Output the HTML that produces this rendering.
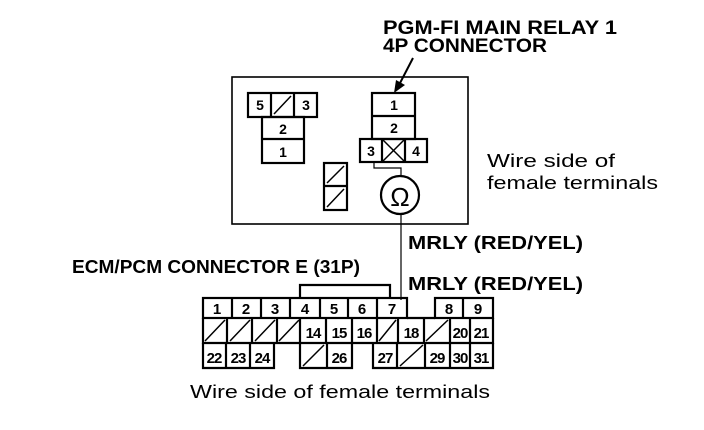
<!DOCTYPE html>
<html><head><style>html,body{margin:0;padding:0;background:#fff}svg{display:block}</style></head><body>
<svg width="704" height="430" viewBox="0 0 704 430" xmlns="http://www.w3.org/2000/svg" font-family="Liberation Sans, sans-serif">
<g fill="none" stroke="#000" stroke-width="2.2">
<rect x="232" y="77" width="236" height="147" stroke-width="1.6"/>
<rect x="248" y="93" width="69" height="24"/>
<line x1="271" y1="93" x2="271" y2="117"/><line x1="294" y1="93" x2="294" y2="117"/>
<line x1="274" y1="114" x2="291" y2="96" stroke-width="1.5"/>
<rect x="262" y="117" width="42" height="46"/>
<line x1="262" y1="139" x2="304" y2="139"/>
<rect x="324" y="163" width="23" height="47"/>
<line x1="324" y1="186" x2="347" y2="186"/>
<line x1="327" y1="183" x2="344" y2="166" stroke-width="1.5"/>
<line x1="327" y1="207" x2="344" y2="189" stroke-width="1.5"/>
<rect x="372" y="93" width="43" height="46"/>
<line x1="372" y1="116" x2="415" y2="116"/>
<rect x="360" y="139" width="67" height="23"/>
<line x1="382" y1="139" x2="382" y2="162"/><line x1="405" y1="139" x2="405" y2="162"/>
<line x1="383" y1="140" x2="404" y2="161" stroke-width="1.5"/>
<line x1="383" y1="161" x2="404" y2="140" stroke-width="1.5"/>
<polyline points="374,162 374,168 401,168 401,175" stroke-width="1.2"/>
<circle cx="400" cy="195" r="19"/>
<line x1="401" y1="214" x2="401" y2="300" stroke-width="1.2"/>
<line x1="413" y1="58" x2="399" y2="85" stroke-width="2"/>
</g>
<polygon points="394,93 396,80 405,85" fill="#000"/>
<text x="400" y="206" font-size="26" text-anchor="middle">Ω</text>
<g font-size="14" font-weight="bold" text-anchor="middle">
<text x="260" y="110">5</text><text x="306" y="110">3</text>
<text x="283" y="134">2</text><text x="283" y="157">1</text>
<text x="394" y="110">1</text><text x="394" y="133">2</text>
<text x="371" y="156">3</text><text x="416" y="156">4</text>
</g>
<g font-weight="bold" fill="#000">
<text x="383" y="34" font-size="19" textLength="234" lengthAdjust="spacingAndGlyphs">PGM-FI MAIN RELAY 1</text>
<text x="383" y="52" font-size="19" textLength="164" lengthAdjust="spacingAndGlyphs">4P CONNECTOR</text>
<text x="408" y="249" font-size="18" textLength="175" lengthAdjust="spacingAndGlyphs">MRLY (RED/YEL)</text>
<text x="408" y="290" font-size="18" textLength="175" lengthAdjust="spacingAndGlyphs">MRLY (RED/YEL)</text>
<text x="72" y="273" font-size="18" textLength="288" lengthAdjust="spacingAndGlyphs">ECM/PCM CONNECTOR E (31P)</text>
</g>
<g font-size="18">
<text x="487" y="167" textLength="128" lengthAdjust="spacingAndGlyphs">Wire side of</text>
<text x="487" y="189" textLength="171" lengthAdjust="spacingAndGlyphs">female terminals</text>
<text x="190" y="398" textLength="300" lengthAdjust="spacingAndGlyphs">Wire side of female terminals</text>
</g>
<g fill="none" stroke="#000" stroke-width="2.2">
<polyline points="300,298 300,285 390,285 390,298"/>
<rect x="203" y="298" width="204" height="20"/>
<line x1="232" y1="298" x2="232" y2="318"/><line x1="261" y1="298" x2="261" y2="318"/>
<line x1="290" y1="298" x2="290" y2="318"/><line x1="320" y1="298" x2="320" y2="318"/>
<line x1="348" y1="298" x2="348" y2="318"/><line x1="377" y1="298" x2="377" y2="318"/>
<rect x="435" y="298" width="58" height="20"/>
<line x1="463" y1="298" x2="463" y2="318"/>
<polyline points="203,318 203,343 493,343 493,318"/>
<line x1="407" y1="318" x2="435" y2="318"/>
<line x1="227" y1="318" x2="227" y2="343"/><line x1="252" y1="318" x2="252" y2="343"/>
<line x1="277" y1="318" x2="277" y2="343"/><line x1="300" y1="318" x2="300" y2="343"/>
<line x1="326" y1="318" x2="326" y2="343"/><line x1="352" y1="318" x2="352" y2="343"/>
<line x1="377" y1="318" x2="377" y2="343"/><line x1="398" y1="318" x2="398" y2="343"/>
<line x1="424" y1="318" x2="424" y2="343"/><line x1="450" y1="318" x2="450" y2="343"/>
<line x1="470" y1="318" x2="470" y2="343"/>
<polyline points="203,343 203,368 274,368 274,343"/>
<line x1="226" y1="343" x2="226" y2="368"/><line x1="250" y1="343" x2="250" y2="368"/>
<polyline points="300,343 300,368 352,368 352,343"/>
<line x1="327" y1="343" x2="327" y2="368"/>
<polyline points="373,343 373,368 493,368 493,343"/>
<line x1="397" y1="343" x2="397" y2="368"/><line x1="425" y1="343" x2="425" y2="368"/>
<line x1="450" y1="343" x2="450" y2="368"/><line x1="470" y1="343" x2="470" y2="368"/>
</g>
<g stroke="#000" stroke-width="1.5">
<line x1="205" y1="341" x2="225" y2="320"/><line x1="230" y1="341" x2="250" y2="320"/>
<line x1="255" y1="341" x2="275" y2="320"/><line x1="279" y1="341" x2="299" y2="320"/>
<line x1="379" y1="341" x2="396" y2="320"/><line x1="426" y1="341" x2="448" y2="320"/>
<line x1="303" y1="366" x2="324" y2="345"/><line x1="400" y1="366" x2="423" y2="345"/>
</g>
<g font-size="15" font-weight="bold" text-anchor="middle">
<text x="217" y="314">1</text><text x="246" y="314">2</text><text x="275" y="314">3</text>
<text x="305" y="314">4</text><text x="334" y="314">5</text><text x="362" y="314">6</text>
<text x="392" y="314">7</text><text x="449" y="314">8</text><text x="478" y="314">9</text>
</g>
<g font-size="15" font-weight="bold" text-anchor="middle" letter-spacing="-1">
<text x="313" y="338">14</text><text x="339" y="338">15</text><text x="364" y="338">16</text>
<text x="411" y="338">18</text><text x="460" y="338">20</text><text x="481" y="338">21</text>
<text x="214" y="363">22</text><text x="238" y="363">23</text><text x="262" y="363">24</text>
<text x="339" y="363">26</text><text x="385" y="363">27</text><text x="437" y="363">29</text>
<text x="460" y="363">30</text><text x="481" y="363">31</text>
</g>
</svg>
</body></html>
